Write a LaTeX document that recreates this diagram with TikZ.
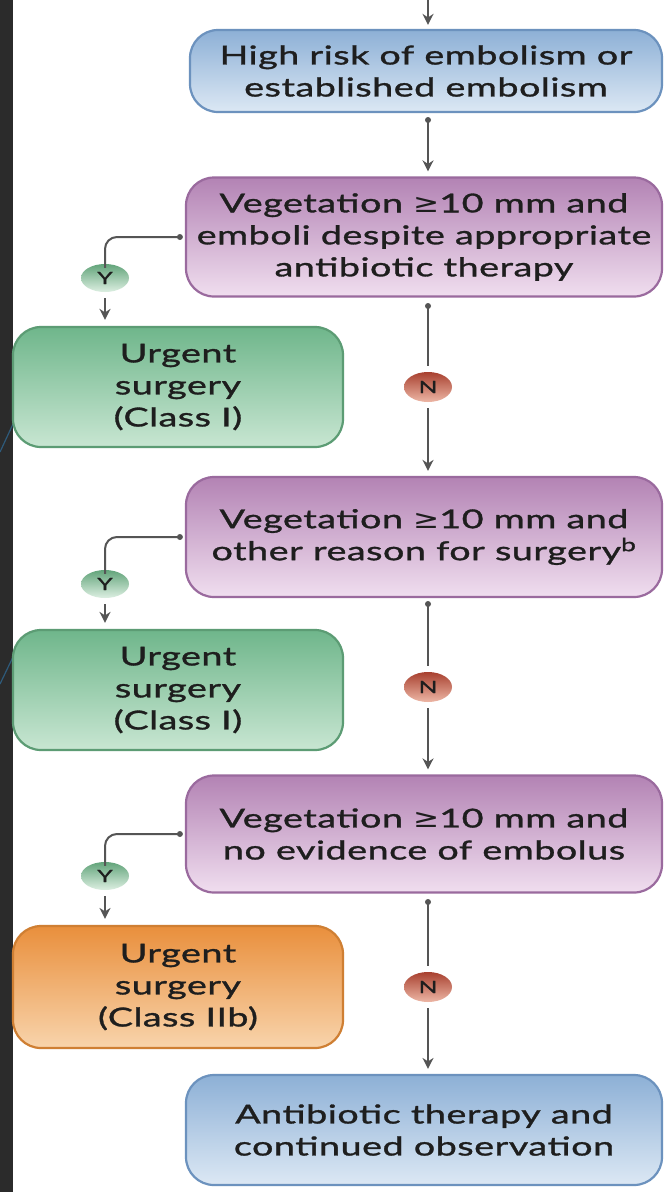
\documentclass[tikz,border=0pt]{standalone}
\usepackage{fontspec}
\setmainfont{Lato}[FakeStretch=1.45, FakeBold=1.2, LetterSpace=2]
\newfontfamily\symfont{DejaVu Sans}[FakeStretch=1.2]
\usetikzlibrary{arrows.meta,shapes.geometric}
\definecolor{strip}{HTML}{2B2B2B}
\definecolor{stripline}{HTML}{2E5A7A}
\definecolor{conn}{HTML}{555555}
\definecolor{txt}{HTML}{1E1E1E}
\definecolor{blueT}{HTML}{8DB0D6}
\definecolor{blueB}{HTML}{DCE8F4}
\definecolor{blueD}{HTML}{6C92BE}
\definecolor{purT}{HTML}{B383B4}
\definecolor{purB}{HTML}{F0DEEF}
\definecolor{purD}{HTML}{9A6A9E}
\definecolor{grnT}{HTML}{6FB68B}
\definecolor{grnB}{HTML}{C8E6D2}
\definecolor{grnD}{HTML}{5C9C74}
\definecolor{orgT}{HTML}{E98F3C}
\definecolor{orgB}{HTML}{F8D4AC}
\definecolor{orgD}{HTML}{CF7F33}
\definecolor{nT}{HTML}{A8402F}
\definecolor{nB}{HTML}{EDB7A6}
\definecolor{yT}{HTML}{62A47A}
\definecolor{yB}{HTML}{DDEFE2}
\newcommand{\myge}{{\symfont ≥}}
\tikzset{
  box/.style={rectangle, rounded corners=28pt, line width=2.2pt, align=center,
    text=txt, font=\fontsize{26}{32}\selectfont, inner sep=0pt},
  bluebox/.style={box, draw=blueD, top color=blueT, bottom color=blueB},
  purbox/.style={box, draw=purD, top color=purT, bottom color=purB},
  grnbox/.style={box, draw=grnD, top color=grnT, bottom color=grnB},
  orgbox/.style={box, draw=orgD, top color=orgT, bottom color=orgB},
  nlab/.style={ellipse, minimum width=48pt, minimum height=30pt, inner sep=0pt,
    top color=nT, bottom color=nB, font=\fontsize{17}{17}\selectfont, text=txt},
  ylab/.style={ellipse, minimum width=48pt, minimum height=28pt, inner sep=0pt,
    top color=yT, bottom color=yB, font=\fontsize{17}{17}\selectfont, text=txt},
  conline/.style={draw=conn, line width=2pt},
  arr/.style={conline, -{Stealth[length=11pt,width=11pt]}},
  dot/.style={circle, fill=conn, inner sep=0pt, minimum size=6pt},
}
\begin{document}
\begin{tikzpicture}[x=1pt,y=-1pt]
\useasboundingbox (0,0) rectangle (666,1192);
\fill[white] (0,0) rectangle (666,1192);
\fill[strip] (0,0) rectangle (13,1192);
\draw[stripline, line width=1.2pt] (0,452) -- (13,424);
\draw[stripline, line width=1.2pt] (0,684) -- (13,657);

\node[bluebox, minimum width=472pt, minimum height=82pt] (b1) at (426,71)
  {High risk of embolism or\\established embolism};
\node[purbox, minimum width=476pt, minimum height=119pt] (p1) at (424,237)
  {Vegetation \myge10 mm and\\emboli despite appropriate\\antibiotic therapy};
\node[grnbox, minimum width=330pt, minimum height=120pt] (g1) at (178,387)
  {Urgent\\surgery\\(Class I)};
\node[purbox, minimum width=476pt, minimum height=120pt] (p2) at (424,537)
  {Vegetation \myge10 mm and\\other reason for surgery\textsuperscript{b}};
\node[grnbox, minimum width=330pt, minimum height=120pt] (g2) at (178,690)
  {Urgent\\surgery\\(Class I)};
\node[purbox, minimum width=476pt, minimum height=117pt] (p3) at (424,834)
  {Vegetation \myge10 mm and\\no evidence of embolus};
\node[orgbox, minimum width=330pt, minimum height=122pt] (o1) at (178,987)
  {Urgent\\surgery\\(Class IIb)};
\node[bluebox, minimum width=476pt, minimum height=110pt] (b2) at (424,1130)
  {Antibiotic therapy and\\continued observation};

\node[ylab] (y1) at (105,278) {Y};
\node[ylab] (y2) at (105,584) {Y};
\node[ylab] (y3) at (105,876) {Y};
\node[nlab] (n1) at (428,387) {N};
\node[nlab] (n2) at (428,687) {N};
\node[nlab] (n3) at (428,987) {N};

\coordinate (top) at (428,0);
\draw[arr, shorten >=4pt] (top) -- (top |- b1.north);
\node[dot] (d0) at (428,120) {};
\draw[arr, shorten >=5pt] (d0.center) -- (d0 |- p1.north);

% Y branches
\node[dot] (dy1) at ([xshift=-5pt]p1.west) {};
\draw[conline, rounded corners=12pt] (dy1.center) -| ([yshift=-4pt]y1.north);
\draw[arr, shorten >=6pt, shorten <=6pt] (y1.south) -- (y1 |- g1.north);
\node[dot] (dy2) at ([xshift=-5pt]p2.west) {};
\draw[conline, rounded corners=12pt] (dy2.center) -| ([yshift=-4pt]y2.north);
\draw[arr, shorten >=6pt, shorten <=6pt] (y2.south) -- (y2 |- g2.north);
\node[dot] (dy3) at ([xshift=-5pt]p3.west) {};
\draw[conline, rounded corners=12pt] (dy3.center) -| ([yshift=-4pt]y3.north);
\draw[arr, shorten >=6pt, shorten <=6pt] (y3.south) -- (y3 |- o1.north);

% N branches
\node[dot] (dn1) at (428,306) {};
\draw[conline, shorten >=6pt] (dn1.center) -- (n1.north);
\draw[arr, shorten >=5pt, shorten <=6pt] (n1.south) -- (n1 |- p2.north);
\node[dot] (dn2) at (428,604) {};
\draw[conline, shorten >=6pt] (dn2.center) -- (n2.north);
\draw[arr, shorten >=5pt, shorten <=6pt] (n2.south) -- (n2 |- p3.north);
\node[dot] (dn3) at (428,902) {};
\draw[conline, shorten >=6pt] (dn3.center) -- (n3.north);
\draw[arr, shorten >=5pt, shorten <=6pt] (n3.south) -- (n3 |- b2.north);
\end{tikzpicture}
\end{document}
